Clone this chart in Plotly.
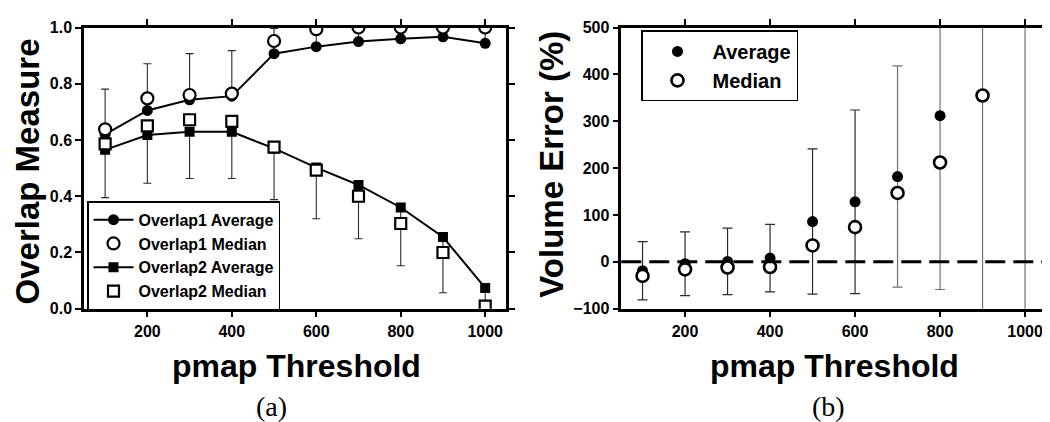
import plotly.graph_objects as go

# ---------------- data ----------------
thresholds = [100, 200, 300, 400, 500, 600, 700, 800, 900, 1000]

overlap1_avg = [0.62, 0.705, 0.743, 0.756, 0.907, 0.932, 0.950, 0.960, 0.967, 0.944]
overlap1_med = [0.638, 0.748, 0.760, 0.765, 0.952, 0.994, 1.0, 1.0, 1.0, 1.0]
overlap1_err = [0.161, 0.166, 0.164, 0.162, 0.090, 0.070, 0.050, 0.040, 0.035, 0.060]

overlap2_avg = [0.565, 0.618, 0.629, 0.629, 0.570, 0.502, 0.440, 0.360, 0.255, 0.074]
overlap2_med = [0.586, 0.650, 0.672, 0.666, 0.575, 0.493, 0.400, 0.303, 0.200, 0.009]
overlap2_err = [0.170, 0.172, 0.166, 0.166, 0.182, 0.182, 0.191, 0.207, 0.198, 0.100]

vol_avg = [-19, -4, 1, 8, 86, 128, 182, 312, 690, 960]
vol_med = [-30, -16, -12, -11, 35, 74, 147, 212, 355, None]
vol_err = [62, 68, 71, 72, 155, 196, 236, 371, 850, 1150]

x_ticks = [200, 400, 600, 800, 1000]
y1_ticks = [0.0, 0.2, 0.4, 0.6, 0.8, 1.0]
y2_ticks = [-100, 0, 100, 200, 300, 400, 500]

# ---------------- style ----------------
SANS = "Liberation Sans"
SERIF = "Liberation Serif"
W, H = 1050, 422
ERR_DARK = "#2a2a2a"
ERR_GRAY = "#707070"

fig = go.Figure()

n = len(thresholds)
zeros = [0] * n

# --- left panel: error bars (overlap1 upward, overlap2 downward) ---
fig.add_trace(go.Scatter(
    x=thresholds, y=overlap1_avg, mode="markers",
    marker=dict(size=1, color="rgba(0,0,0,0)"), showlegend=False, hoverinfo="skip",
    error_y=dict(type="data", symmetric=False, array=overlap1_err, arrayminus=zeros,
                 color=ERR_DARK, thickness=1.1, width=4),
    xaxis="x", yaxis="y"))
fig.add_trace(go.Scatter(
    x=thresholds, y=overlap2_avg, mode="markers",
    marker=dict(size=1, color="rgba(0,0,0,0)"), showlegend=False, hoverinfo="skip",
    error_y=dict(type="data", symmetric=False, array=zeros, arrayminus=overlap2_err,
                 color=ERR_DARK, thickness=1.1, width=4),
    xaxis="x", yaxis="y"))

fig.add_trace(go.Scatter(
    x=thresholds, y=overlap1_avg, mode="lines+markers", name="Overlap1 Average",
    line=dict(color="black", width=2),
    marker=dict(symbol="circle", size=11, color="black"),
    xaxis="x", yaxis="y", legend="legend"))
fig.add_trace(go.Scatter(
    x=thresholds, y=overlap1_med, mode="markers", name="Overlap1 Median",
    marker=dict(symbol="circle", size=12, color="white", line=dict(color="black", width=2.2)),
    xaxis="x", yaxis="y", legend="legend"))
fig.add_trace(go.Scatter(
    x=thresholds, y=overlap2_avg, mode="lines+markers", name="Overlap2 Average",
    line=dict(color="black", width=2),
    marker=dict(symbol="square", size=10, color="black"),
    xaxis="x", yaxis="y", legend="legend"))
fig.add_trace(go.Scatter(
    x=thresholds, y=overlap2_med, mode="markers", name="Overlap2 Median",
    marker=dict(symbol="square", size=11, color="white", line=dict(color="black", width=2.2)),
    xaxis="x", yaxis="y", legend="legend"))

# --- right panel ---
split = 6
fig.add_trace(go.Scatter(
    x=thresholds[:split], y=vol_avg[:split], mode="markers",
    marker=dict(size=1, color="rgba(0,0,0,0)"), showlegend=False, hoverinfo="skip",
    error_y=dict(type="data", array=vol_err[:split], color=ERR_DARK, thickness=1.2, width=5),
    xaxis="x2", yaxis="y2"))
fig.add_trace(go.Scatter(
    x=thresholds[split:], y=vol_avg[split:], mode="markers",
    marker=dict(size=1, color="rgba(0,0,0,0)"), showlegend=False, hoverinfo="skip",
    error_y=dict(type="data", array=vol_err[split:], color=ERR_GRAY, thickness=1.2, width=5),
    xaxis="x2", yaxis="y2"))
fig.add_trace(go.Scatter(
    x=thresholds, y=vol_avg, mode="markers", name="Average",
    marker=dict(symbol="circle", size=11, color="black"),
    xaxis="x2", yaxis="y2", legend="legend2"))
fig.add_trace(go.Scatter(
    x=thresholds, y=vol_med, mode="markers", name="Median",
    marker=dict(symbol="circle", size=12, color="white", line=dict(color="black", width=2.6)),
    xaxis="x2", yaxis="y2", legend="legend2"))

# zero reference line
fig.add_shape(type="line", xref="x2 domain", yref="y2", x0=0, x1=1, y0=0, y1=0,
              line=dict(color="black", width=3, dash="20px,8px"), layer="above")

tickfont = dict(family=SANS, size=16, color="black", weight="bold")
axis_common = dict(showline=True, linecolor="black", linewidth=2.5, mirror="allticks",
                   ticks="outside", ticklen=6, tickwidth=2, tickcolor="black",
                   showgrid=False, zeroline=False, tickfont=tickfont)

x1_dom = [76 / W, 498.3 / W]
x2_dom = [613.3 / W, 1038.3 / W]
y_dom = [1 - 305 / H, 1 - 12 / H]

fig.update_layout(
    width=W, height=H,
    margin=dict(l=0, r=0, t=0, b=0),
    paper_bgcolor="white", plot_bgcolor="white",
    xaxis=dict(domain=x1_dom, range=[50, 1050], tickvals=x_ticks, anchor="y", **axis_common),
    yaxis=dict(domain=y_dom, range=[0, 1.0], tickvals=y1_ticks, tickformat=".1f", anchor="x",
               **axis_common),
    xaxis2=dict(domain=x2_dom, range=[50, 1050], tickvals=x_ticks, anchor="y2", **axis_common),
    yaxis2=dict(domain=y_dom, range=[-100, 500], tickvals=y2_ticks, anchor="x2", **axis_common),
    legend=dict(x=79 / W, y=1 - 193 / H, xanchor="left", yanchor="top",
                bgcolor="white", bordercolor="black", borderwidth=1.5,
                font=dict(family=SANS, size=16, color="black", weight="bold"),
                tracegroupgap=0, itemwidth=40),
    legend2=dict(x=633 / W, y=1 - 15 / H, xanchor="left", yanchor="top",
                 bgcolor="white", bordercolor="black", borderwidth=1.5,
                 font=dict(family=SANS, size=20, color="black", weight="bold"),
                 tracegroupgap=0, itemwidth=60),
    showlegend=True,
)

title_font = dict(family=SANS, size=33, color="black", weight="bold")
annotations = [
    dict(text="Overlap Measure", x=19 / W, y=1 - 162 / H, textangle=-90, font=title_font),
    dict(text="Volume Error (%)", x=544 / W, y=1 - 155 / H, textangle=-90, font=title_font),
    dict(text="pmap Threshold", x=288 / W, y=1 - 365 / H,
         font=dict(family=SANS, size=32, color="black", weight="bold")),
    dict(text="pmap Threshold", x=826 / W, y=1 - 365 / H,
         font=dict(family=SANS, size=32, color="black", weight="bold")),
    dict(text="(a)", x=263 / W, y=1 - 407 / H, font=dict(family=SERIF, size=28, color="black")),
    dict(text="(b)", x=820 / W, y=1 - 407 / H, font=dict(family=SERIF, size=28, color="black")),
]
for a in annotations:
    a.update(xref="paper", yref="paper", showarrow=False, xanchor="center", yanchor="middle")
fig.update_layout(annotations=annotations)

fig.write_html("out.html")
